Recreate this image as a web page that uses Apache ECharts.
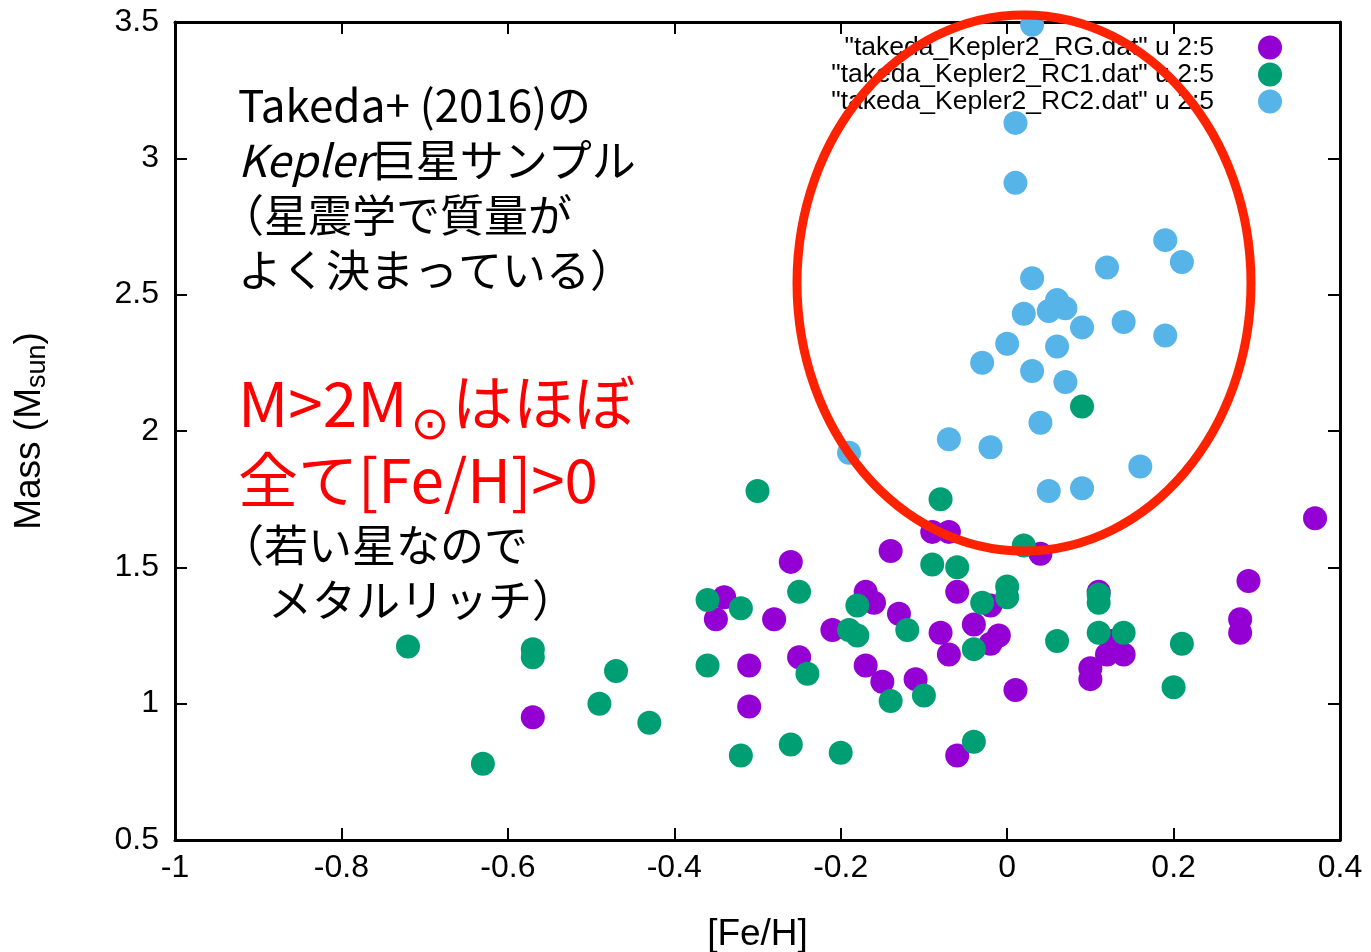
<!DOCTYPE html>
<html><head><meta charset="utf-8">
<script src="https://cdn.jsdelivr.net/npm/echarts@6/dist/echarts.min.js"></script>
<style>html,body{margin:0;padding:0;background:#fff}#c{width:1371px;height:952px}</style>
</head><body><div id="c"></div>
<script>
// ---- data ([Fe/H], Mass) ----
const seriesNames = ['"takeda_Kepler2_RG.dat" u 2:5', '"takeda_Kepler2_RC1.dat" u 2:5', '"takeda_Kepler2_RC2.dat" u 2:5'];
const seriesColors = ['#9400d3', '#009e73', '#56b4e9'];
const rgData = [
  [-0.57,0.95],
  [-0.34,1.39],[-0.35,1.31],[-0.28,1.31],[-0.26,1.52],[-0.31,1.14],[-0.25,1.17],[-0.31,0.99],
  [-0.21,1.27],[-0.17,1.41],[-0.16,1.37],[-0.13,1.33],[-0.14,1.56],[-0.09,1.63],[-0.07,1.63],
  [0.04,1.55],[-0.06,1.41],[-0.02,1.36],[-0.08,1.26],[-0.04,1.29],[-0.01,1.25],[-0.02,1.22],
  [-0.07,1.18],[-0.17,1.14],[-0.15,1.08],[-0.11,1.09],[0.01,1.05],[-0.06,0.81],
  [0.11,1.41],[0.125,1.23],[0.12,1.18],[0.14,1.18],[0.10,1.13],[0.10,1.09],
  [0.29,1.45],[0.28,1.31],[0.28,1.26],[0.37,1.68]
];
const rc1Data = [
  [-0.72,1.21],[-0.57,1.20],[-0.57,1.17],[-0.47,1.12],[-0.49,1.00],[-0.63,0.78],[-0.43,0.93],
  [-0.36,1.38],[-0.32,1.35],[-0.25,1.41],[-0.36,1.14],[-0.24,1.11],[-0.32,0.81],[-0.26,0.85],[-0.30,1.78],
  [-0.08,1.75],[0.02,1.58],[-0.09,1.51],[-0.06,1.50],[0.00,1.43],[0.00,1.39],[-0.03,1.37],
  [-0.18,1.36],[-0.19,1.27],[-0.18,1.25],[-0.12,1.27],[-0.04,1.20],[-0.14,1.01],[-0.10,1.03],
  [-0.20,0.82],[-0.04,0.86],
  [0.11,1.40],[0.11,1.37],[0.11,1.26],[0.14,1.26],[0.06,1.23],[0.21,1.22],[0.20,1.06],[0.09,2.09]
];
const rc2Data = [
  [0.03,3.49],[0.01,3.13],[0.01,2.91],[0.19,2.70],[0.21,2.62],[0.12,2.60],[0.03,2.56],
  [0.06,2.48],[0.07,2.45],[0.05,2.44],[0.02,2.43],[0.14,2.40],[0.09,2.38],[0.19,2.35],
  [0.00,2.32],[0.06,2.31],[-0.03,2.25],[0.03,2.22],[0.07,2.18],[0.04,2.03],[-0.07,1.97],
  [-0.02,1.94],[-0.19,1.92],[0.16,1.87],[0.09,1.79],[0.05,1.78]
];
const xTickLabels = ['-1','-0.8','-0.6','-0.4','-0.2','0','0.2','0.4'];
const yTickLabels = ['0.5','1','1.5','2','2.5','3','3.5'];
const xMin = -1, xMax = 0.4, xStep = 0.2;
const yMin = 0.5, yMax = 3.5, yStep = 0.5;

const chart = echarts.init(document.getElementById('c'));
const latin = 'Liberation Sans, Arial, sans-serif';
const jp = '"Noto Sans CJK JP", sans-serif';
const axLine = {show: true, onZero: false, lineStyle: {color: '#000', width: 3}};
const axTick = {show: true, inside: true, length: 12, lineStyle: {color: '#000', width: 2}};

function xFmt(v){ const i = Math.round((v - xMin) / xStep); return xTickLabels[i] ?? ''; }
function yFmt(v){ const i = Math.round((v - yMin) / yStep); return yTickLabels[i] ?? ''; }

function blk(y, text, x){
  return {type: 'text', z: 90, silent: true,
    style: {x: x, y: y, text: text, fontSize: 44, fontFamily: jp, fill: '#000', verticalAlign: 'middle',
      rich: {i: {fontStyle: 'italic', fontSize: 44, fontFamily: jp, fill: '#000'}}}};
}
function red(y, text, x, size, family, align){
  return {type: 'text', z: 90, silent: true,
    style: {x: x, y: y, text: text, fontSize: size, fontFamily: family || jp, fill: '#ff0000',
      verticalAlign: 'middle', align: align || 'left'}};
}

const allData = [rgData, rc1Data, rc2Data];
chart.setOption({
  animation: false,
  backgroundColor: '#fff',
  grid: {left: 175, right: 31, top: 22, bottom: 112, outerBoundsMode: 'none', containLabel: false},
  xAxis: [
    {type: 'value', min: xMin, max: xMax, interval: xStep, position: 'bottom',
     axisLine: axLine, axisTick: axTick, splitLine: {show: false},
     axisLabel: {fontSize: 32, color: '#000', margin: 12, fontFamily: latin, formatter: xFmt},
     name: '[Fe/H]', nameLocation: 'middle', nameGap: 76,
     nameTextStyle: {fontSize: 37, color: '#000', fontFamily: latin}},
    {type: 'value', min: xMin, max: xMax, interval: xStep, position: 'top',
     axisLine: axLine, axisTick: axTick, splitLine: {show: false}, axisLabel: {show: false}}
  ],
  yAxis: [
    {type: 'value', min: yMin, max: yMax, interval: yStep, position: 'left',
     axisLine: axLine, axisTick: axTick, splitLine: {show: false},
     axisLabel: {fontSize: 32, color: '#000', margin: 16, fontFamily: latin, formatter: yFmt},
     name: 'Mass (M{s|sun})', nameLocation: 'middle', nameGap: 124, nameRotate: 90,
     nameTextStyle: {fontSize: 37, color: '#000', fontFamily: latin,
       rich: {s: {fontSize: 27, color: '#000', fontFamily: latin, verticalAlign: 'bottom', padding: [16, 0, 0, 0]}}}},
    {type: 'value', min: yMin, max: yMax, interval: yStep, position: 'right',
     axisLine: axLine, axisTick: axTick, splitLine: {show: false}, axisLabel: {show: false}}
  ],
  legend: {
    orient: 'vertical', right: 84, top: 29, align: 'right',
    itemWidth: 24, itemHeight: 24, itemGap: 0, icon: 'circle',
    data: seriesNames,
    textStyle: {fontSize: 26.5, color: '#000', fontFamily: latin, padding: [0, 39, 0, 0]}
  },
  series: seriesNames.map((n, i) => ({
    name: n, type: 'scatter', data: allData[i], symbol: 'circle', symbolSize: 24,
    itemStyle: {color: seriesColors[i], opacity: 1}, z: 2 + i
  })),
  graphic: [
    {type: 'ellipse', z: 100, silent: true,
     shape: {cx: 1024, cy: 283, rx: 227, ry: 268},
     style: {fill: 'none', stroke: '#ff2200', lineWidth: 9}},
    blk(105, 'Takeda+ (2016)の', 238),
    blk(160, '{i|Kepler}巨星サンプル', 238),
    blk(215, '（星震学で質量が', 220),
    blk(270, 'よく決まっている）', 238),
    red(403, 'M>2M', 238, 62),
    red(427, '⊙', 430, 46, 'DejaVu Sans', 'center'),
    red(403, 'はほぼ', 452, 61),
    red(480, '全て[Fe/H]>0', 238, 60),
    blk(545, '（若い星なので', 220),
    blk(600, 'メタルリッチ）', 268)
  ]
});
</script>
</body></html>
